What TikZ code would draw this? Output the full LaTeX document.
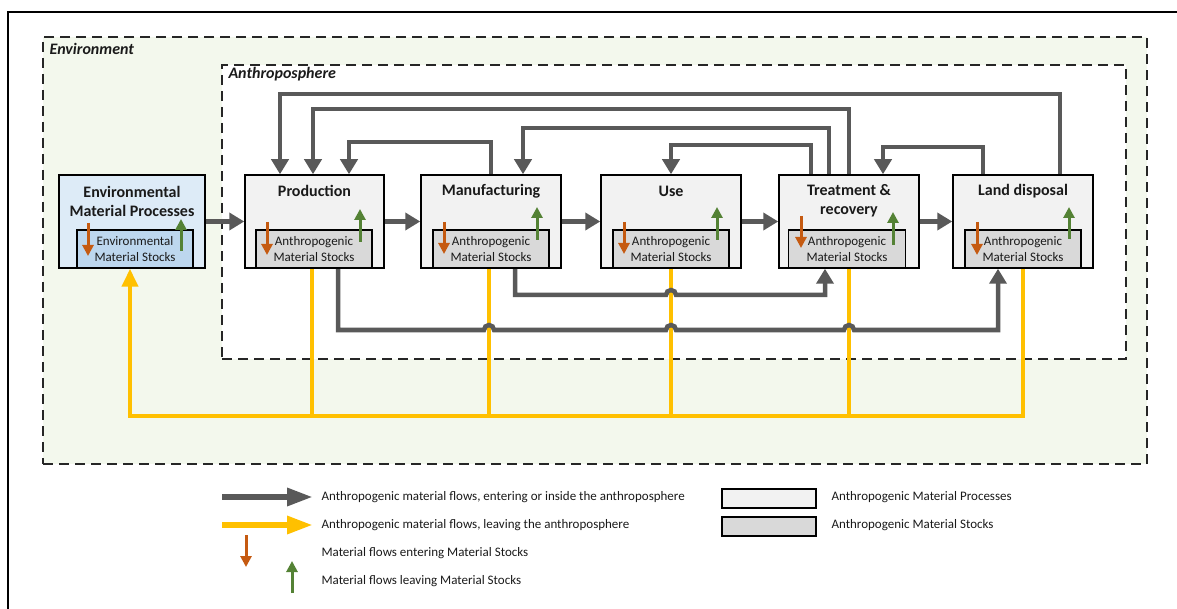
\documentclass[tikz,border=0pt]{standalone}
\usepackage{fontspec}
\setmainfont{Carlito}
\usetikzlibrary{arrows.meta}
\definecolor{garr}{HTML}{595959}
\definecolor{yel}{HTML}{FFC000}
\definecolor{orng}{HTML}{C55A11}
\definecolor{grn}{HTML}{548235}
\definecolor{procfill}{HTML}{F2F2F2}
\definecolor{stockfill}{HTML}{D9D9D9}
\definecolor{envproc}{HTML}{DDEBF7}
\definecolor{envstock}{HTML}{BDD7EE}
\definecolor{envfill}{HTML}{F3F8ED}
\definecolor{dashc}{HTML}{262626}
\definecolor{txt}{HTML}{1A1A1A}
\begin{document}
\begin{tikzpicture}[x=1pt,y=-1pt,
  zone/.style={draw=dashc, line width=2pt, dash pattern=on 10pt off 6pt, inner sep=0pt, anchor=north west},
  proc/.style={draw=black, line width=1.5pt, fill=procfill, inner sep=0pt},
  stock/.style={draw=black, line width=1.5pt, fill=stockfill, inner sep=0pt, align=center, text=txt, font=\fontsize{13}{16}\selectfont},
  ptitle/.style={align=center, text=txt, font=\bfseries\fontsize{16}{19}\selectfont},
  zlabel/.style={anchor=west, text=txt, font=\bfseries\itshape\fontsize{16}{19}\selectfont},
  garrow/.style={draw=garr, line width=4.5pt, -{Triangle[length=15pt,width=17pt]}},
  yline/.style={draw=yel, line width=4pt},
  yarrow/.style={draw=yel, line width=4pt, -{Triangle[length=18pt,width=16pt]}},
  inarr/.style={draw=orng, line width=3pt, -{Triangle[length=11pt,width=11pt]}},
  outarr/.style={draw=grn, line width=3pt, -{Triangle[length=11pt,width=11pt]}},
  legtext/.style={anchor=west, text=txt, font=\fontsize{13}{16}\selectfont},
]
\useasboundingbox (0,0) rectangle (1177,609);
% outer frame
\draw[line width=1.5pt] (8,609) -- (8,12) -- (1177,12);

% zones
\node[zone, fill=envfill, minimum width=1104pt, minimum height=427pt] (envzone) at (42,36) {};
\node[zone, fill=white, minimum width=904pt, minimum height=294pt] (anthzone) at (221,64) {};
\node[zlabel] (envlabel) at (46,49) {Environment};
\node[zlabel] (anthlabel) at (225,74) {Anthroposphere};

% process boxes
\node[proc, fill=envproc, minimum width=146pt, minimum height=93pt] (env) at (132,221.5) {};
\node[proc, minimum width=139pt, minimum height=93pt] (prod) at (314.5,221.5) {};
\node[proc, minimum width=140pt, minimum height=93pt] (mfg) at (491,221.5) {};
\node[proc, minimum width=140pt, minimum height=93pt] (use) at (671,221.5) {};
\node[proc, minimum width=140pt, minimum height=93pt] (trt) at (849,221.5) {};
\node[proc, minimum width=140pt, minimum height=93pt] (land) at (1023,221.5) {};

% yellow flows leaving the anthroposphere
\draw[yline] (312,0 |- prod.south) -- (312,416);
\draw[yline] (489,0 |- mfg.south) -- (489,416);
\draw[yline] (671,0 |- use.south) -- (671,416);
\draw[yline] (849,0 |- trt.south) -- (849,416);
\draw[yarrow] (1023,0 |- land.south) -- (1023,416) -- (130,416) -- (130,0 |- env.south);

% gray flows, horizontal chain
\draw[garrow] (env.east) -- (prod.west);
\draw[garrow] (prod.east) -- (mfg.west);
\draw[garrow] (mfg.east) -- (use.west);
\draw[garrow] (use.east) -- (trt.west);
\draw[garrow] (trt.east) -- (land.west);

% gray feedback flows on top
\draw[garrow] (1060,0 |- land.north) -- (1060,94) -- (280,94) -- (280,0 |- prod.north);
\draw[garrow] (849,0 |- trt.north) -- (849,109) -- (313,109) -- (313,0 |- prod.north);
\draw[garrow] (829,0 |- trt.north) -- (829,128) -- (523,128) -- (523,0 |- mfg.north);
\draw[garrow] (491,0 |- mfg.north) -- (491,142) -- (349,142) -- (349,0 |- prod.north);
\draw[garrow] (811,0 |- trt.north) -- (811,145) -- (671,145) -- (671,0 |- use.north);
\draw[garrow] (983,0 |- land.north) -- (983,147) -- (883,147) -- (883,0 |- trt.north);

% gray flows below (with small hops over the yellow lines)
\draw[garrow] (515,0 |- mfg.south) -- (515,295) -- (666,295)
  arc[start angle=180,end angle=0,radius=5pt] -- (825,295) -- (825,0 |- trt.south);
\draw[garrow] (338,0 |- prod.south) -- (338,330) -- (484,330)
  arc[start angle=180,end angle=0,radius=5pt] -- (666,330)
  arc[start angle=180,end angle=0,radius=5pt] -- (844,330)
  arc[start angle=180,end angle=0,radius=5pt] -- (998,330) -- (998,0 |- land.south);

% redraw boxes on top of arrow starts
\node[proc, fill=envproc, minimum width=146pt, minimum height=93pt] at (env) {};
\node[proc, minimum width=139pt, minimum height=93pt] at (prod) {};
\node[proc, minimum width=140pt, minimum height=93pt] at (mfg) {};
\node[proc, minimum width=140pt, minimum height=93pt] at (use) {};
\node[proc, minimum width=140pt, minimum height=93pt] at (trt) {};
\node[proc, minimum width=140pt, minimum height=93pt] at (land) {};

% titles
\node[ptitle] (envT) at (132,201) {Environmental\\Material Processes};
\node[ptitle] (prodT) at (314.5,191) {Production};
\node[ptitle] (mfgT) at (491,191) {Manufacturing};
\node[ptitle] (useT) at (671,191) {Use};
\node[ptitle] (trtT) at (849,201) {Treatment \&\\recovery};
\node[ptitle] (landT) at (1023,191) {Land disposal};

% stocks
\node[stock, fill=envstock, minimum width=116pt, minimum height=38pt] (envS) at (135,249) {Environmental\\Material Stocks};
\node[stock, minimum width=116pt, minimum height=38pt] (prodS) at (314,249) {Anthropogenic\\Material Stocks};
\node[stock, minimum width=116pt, minimum height=38pt] (mfgS) at (491,249) {Anthropogenic\\Material Stocks};
\node[stock, minimum width=116pt, minimum height=38pt] (useS) at (671,249) {Anthropogenic\\Material Stocks};
\node[stock, minimum width=117pt, minimum height=38pt] (trtS) at (847,249) {Anthropogenic\\Material Stocks};
\node[stock, minimum width=116pt, minimum height=38pt] (landS) at (1023,249) {Anthropogenic\\Material Stocks};

% stock in/out arrows
\draw[inarr] (88,223) -- (88,256);
\draw[outarr] (181,251) -- (181,219);
\draw[inarr] (267,222) -- (267,255);
\draw[outarr] (360,242) -- (360,209);
\draw[inarr] (444,222) -- (444,254);
\draw[outarr] (537,240) -- (537,207);
\draw[inarr] (624,222) -- (624,254);
\draw[outarr] (717,240) -- (717,207);
\draw[inarr] (801,216) -- (801,248);
\draw[outarr] (893,245) -- (893,212);
\draw[inarr] (977,222) -- (977,255);
\draw[outarr] (1069,239) -- (1069,207);

% legend
\coordinate (lg1a) at (222,497); \coordinate (lg1b) at (313,497);
\coordinate (lg2a) at (222,525); \coordinate (lg2b) at (313,525);
\coordinate (lg3a) at (246,535); \coordinate (lg3b) at (246,567);
\coordinate (lg4a) at (292,593); \coordinate (lg4b) at (292,561);
\draw[draw=garr, line width=6pt, -{Triangle[length=26pt,width=17pt]}] (lg1a) -- (lg1b);
\draw[draw=yel, line width=6pt, -{Triangle[length=26pt,width=17pt]}] (lg2a) -- (lg2b);
\draw[inarr] (lg3a) -- (lg3b);
\draw[outarr] (lg4a) -- (lg4b);
\node[legtext] (lt1) at (318,497) {Anthropogenic material flows, entering or inside the anthroposphere};
\node[legtext] (lt2) at (318,525) {Anthropogenic material flows, leaving the anthroposphere};
\node[legtext] (lt3) at (318,553) {Material flows entering Material Stocks};
\node[legtext] (lt4) at (318,581) {Material flows leaving Material Stocks};
\node[proc, anchor=north west, minimum width=94pt, minimum height=19pt] (legP) at (721,488) {};
\node[proc, fill=stockfill, anchor=north west, minimum width=94pt, minimum height=19pt] (legS) at (721,516) {};
\node[legtext] (lt5) at (828,497) {Anthropogenic Material Processes};
\node[legtext] (lt6) at (828,525) {Anthropogenic Material Stocks};
\end{tikzpicture}
\end{document}
